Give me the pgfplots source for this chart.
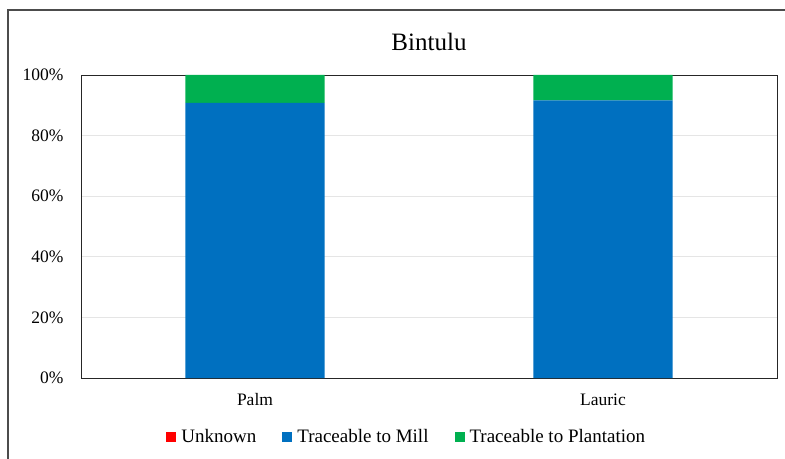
\documentclass[border=0pt]{standalone}
\usepackage{fontspec}
\setmainfont{Liberation Serif}
\usepackage{pgfplots}
\pgfplotsset{compat=1.18}
\definecolor{cred}{HTML}{FF0000}
\definecolor{cblue}{HTML}{0070C0}
\definecolor{cgreen}{HTML}{00B050}
\begin{document}
\begin{tikzpicture}
\useasboundingbox (-81bp,-81bp) rectangle (704bp,378bp);
\draw[line width=1.2bp, black!70] (-73bp,-82bp) -- (-73bp,368bp) -- (705bp,368bp);
\begin{axis}[
  at={(0,0)}, anchor=south west,
  scale only axis, width=696bp, height=303bp,
  ymin=0, ymax=100, xmin=-0.5, xmax=1.5,
  ybar stacked, bar width=0.4,
  xtick=data, xticklabels={Palm,Lauric},
  ytick={0,20,40,60,80,100},
  yticklabel={\pgfmathprintnumber{\tick}\%},
  /pgf/number format/assume math mode=true,
  major tick length=0,
  ymajorgrids, grid style={color=black!10, line width=0.6bp},
  axis line style={black!85, line width=0.9bp},
  tick label style={font=\fontsize{17.5bp}{20bp}\selectfont},
  yticklabel style={xshift=-14bp},
  xticklabel style={yshift=-12bp},
  title={Bintulu},
  title style={font=\fontsize{25bp}{28bp}\selectfont, yshift=15bp},
  legend columns=3,
  legend style={at={(0.468,-0.195)}, anchor=center, draw=none,
    font=\fontsize{19bp}{22bp}\selectfont,
    /tikz/every even column/.append style={column sep=24bp}},
  legend image code/.code={\fill[#1] (0bp,-5bp) rectangle (10bp,5bp); \path (13bp,0bp);},
]
\addplot[fill=cred, draw=none] coordinates {(0,0) (1,0)};
\addlegendentry{Unknown}
\addplot[fill=cblue, draw=none] coordinates {(0,90.8) (1,91.6)};
\addlegendentry{Traceable to Mill}
\addplot[fill=cgreen, draw=none] coordinates {(0,9.2) (1,8.4)};
\addlegendentry{Traceable to Plantation}
\end{axis}
\end{tikzpicture}
\end{document}
